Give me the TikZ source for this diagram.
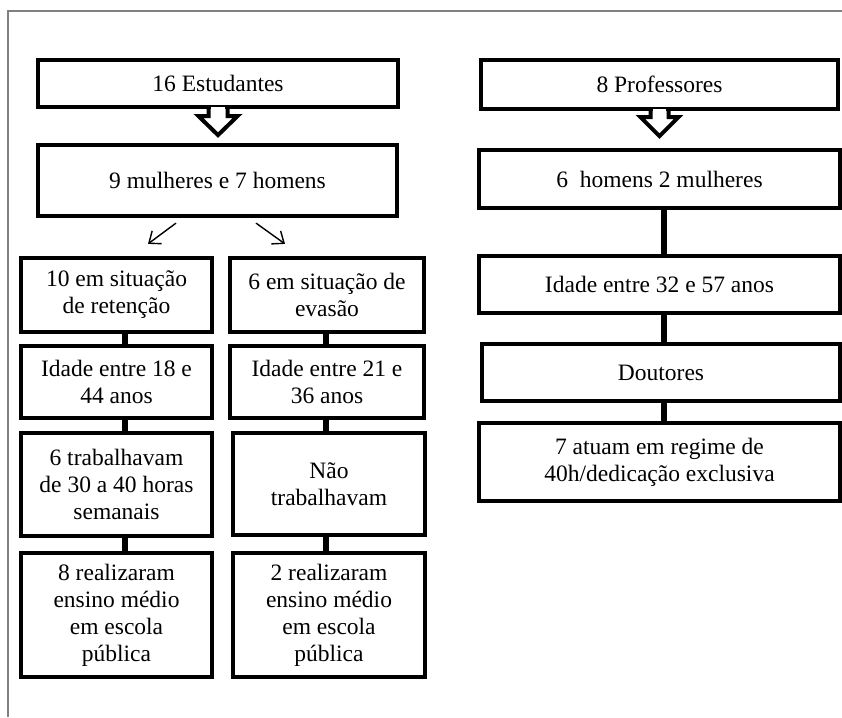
\documentclass[tikz,border=0pt]{standalone}
\usepackage{fontspec}
\setmainfont{Liberation Serif}
\usepackage{tikz}
\usetikzlibrary{arrows.meta,calc}
\tikzstyle{cx}=[draw,line width=4.2pt,align=center,inner sep=0pt,font=\fontsize{23.5}{27}\selectfont]
\tikzstyle{lig}=[line width=6pt]
\tikzstyle{seta}=[-{Straight Barb[length=10pt,width=16pt]},line width=1.4pt]
\tikzstyle{blk}=[draw,fill=white,line width=4pt,line join=miter]
\begin{document}
\begin{tikzpicture}[x=1pt,y=-1pt]
        \useasboundingbox (0,0) rectangle (842,717);
        \draw[black!50,line width=1.3pt] (8,717) -- (8,11) -- (842,11);
        % estudantes
        \node[cx,minimum width=360,minimum height=47] (E) at (218,83.5) {16 Estudantes}
        ;
        \node[cx,minimum width=359,minimum height=71] (M) at (217.5,180.5) {9 mulheres e 7 homens}
        ;
        \node[cx,minimum width=191,minimum height=74] (L1) at (116.5,295) {10 em situação\\de retenção}
        ;
        \node[cx,minimum width=191,minimum height=72] (L2) at (116.5,382) {Idade entre 18 e\\44 anos}
        ;
        \node[cx,minimum width=191,minimum height=103] (L3) at (116.5,484.5) {6 trabalhavam\\de 30 a 40 horas\\semanais}
        ;
        \node[cx,minimum width=191,minimum height=124] (L4) at (116.5,615) {8 realizaram\\ensino médio\\em escola\\pública}
        ;
        \node[cx,minimum width=194,minimum height=74] (R1) at (327,295) {6 em situação de\\evasão}
        ;
        \node[cx,minimum width=194,minimum height=72] (R2) at (327,382) {Idade entre 21 e\\36 anos}
        ;
        \node[cx,minimum width=192,minimum height=102] (R3) at (329,484) {Não\\trabalhavam}
        ;
        \node[cx,minimum width=192,minimum height=124] (R4) at (329,615) {2 realizaram\\ensino médio\\em escola\\pública}
        ;
        % professores
        \node[cx,minimum width=357,minimum height=49] (P) at (659.5,84.5) {8 Professores}
        ;
        \node[cx,minimum width=361,minimum height=58] (P1) at (659.5,179) {6\ \ homens 2 mulheres}
        ;
        \node[cx,minimum width=361,minimum height=57] (P2) at (659.5,284.5) {Idade entre 32 e 57 anos}
        ;
        \node[cx,minimum width=358,minimum height=57] (P3) at (661,372.5) {Doutores}
        ;
        \node[cx,minimum width=361,minimum height=78] (P4) at (659.5,462) {7 atuam em regime de\\40h/dedicação exclusiva}
        ;
        % ligacoes
        \coordinate (cl) at (125,0);
        \coordinate (cr) at (326,0);
        \coordinate (cp) at (664,0);
        \draw[lig] (L1.south -| cl) -- (L2.north -| cl);
        \draw[lig] (L2.south -| cl) -- (L3.north -| cl);
        \draw[lig] (L3.south -| cl) -- (L4.north -| cl);
        \draw[lig] (R1.south -| cr) -- (R2.north -| cr);
        \draw[lig] (R2.south -| cr) -- (R3.north -| cr);
        \draw[lig] (R3.south -| cr) -- (R4.north -| cr);
        \draw[lig] (P1.south -| cp) -- (P2.north -| cp);
        \draw[lig] (P2.south -| cp) -- (P3.north -| cp);
        \draw[lig] (P3.south -| cp) -- (P4.north -| cp);
        \draw[seta] ($(M.south)+(-41.5,5)$) -- ($(L1.north)+(31.5,-12)$);
        \draw[seta] ($(M.south)+(38.5,5)$) -- ($(R1.north)+(-42,-12)$);
        % setas grossas
        \path[blk] (E.south) ++(-9.5,0) -- ++(0,7) -- ++(-10,0) -- ++(19.5,19) -- ++(19.5,-19) -- ++(-10,0) -- ++(0,-7);
        \fill[white] ($(E.south)+(-7,-2.5)$) rectangle ($(E.south)+(7,2.5)$);
        \path[blk] (P.south) ++(-9,0) -- ++(0,6) -- ++(-10,0) -- ++(19,19) -- ++(19,-19) -- ++(-10,0) -- ++(0,-6);
        \fill[white] ($(P.south)+(-6.5,-2.5)$) rectangle ($(P.south)+(6.5,2.5)$);
    \end{tikzpicture}
\end{document}
